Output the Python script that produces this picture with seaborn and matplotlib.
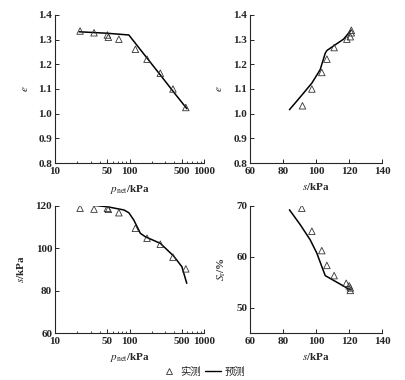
import numpy as np
import pandas as pd
import matplotlib
matplotlib.use('Agg')
import matplotlib.pyplot as plt
import seaborn as sns
from matplotlib.lines import Line2D
from matplotlib.ticker import LogLocator, NullFormatter

# measured points (triangles)
p_meas = [21.7, 33.4, 50.5, 52, 72, 120, 172, 259, 383, 570]
e_meas = [1.335, 1.328, 1.319, 1.310, 1.302, 1.261, 1.221, 1.164, 1.100, 1.025]
s_meas_p = [118.8, 118.4, 118.8, 118.3, 116.7, 109.4, 104.7, 101.9, 95.8, 90.3]

s_meas = [91.8, 97.5, 103.5, 106.6, 111.0, 118.7, 120.8, 121.4, 121.4]
e_meas_s = [1.032, 1.100, 1.167, 1.221, 1.268, 1.302, 1.312, 1.328, 1.338]
sr_s = [91.4, 97.5, 103.5, 106.6, 111.0, 118.3, 120.1, 120.8, 120.8]
sr_meas = [69.5, 65.0, 61.2, 58.3, 56.3, 54.8, 54.3, 53.9, 53.4]

# predicted curves
p_pred = [21.1, 50, 98, 150, 250, 400, 590]
e_pred = [1.332, 1.326, 1.319, 1.248, 1.163, 1.084, 1.020]

p_pred2 = [22.2, 50.5, 84, 98, 114, 140, 163, 259, 390, 505, 587]
s_pred_p = [120.8, 119.5, 118.0, 116.7, 113.3, 107.0, 105.4, 102.3, 96.4, 91.3, 83.5]

s_pred = [83.9, 90.4, 97.5, 102.5, 105.6, 106.6, 111.6, 116.7, 121.2]
e_pred_s = [1.016, 1.067, 1.124, 1.178, 1.245, 1.256, 1.279, 1.302, 1.338]

s_pred2 = [83.9, 90.4, 96.5, 100.5, 103.5, 105.6, 120.8]
sr_pred = [69.2, 66.3, 63.3, 60.7, 58.1, 56.3, 53.5]

sns.set_style('ticks')
plt.rcParams['font.family'] = ['Liberation Serif', 'Noto Sans CJK SC']
plt.rcParams['mathtext.fontset'] = 'stix'
plt.rcParams['xtick.direction'] = 'in'
plt.rcParams['ytick.direction'] = 'in'
plt.rcParams['xtick.major.size'] = 3
plt.rcParams['ytick.major.size'] = 3
plt.rcParams['xtick.minor.size'] = 1.8
plt.rcParams['xtick.major.width'] = 0.7
plt.rcParams['ytick.major.width'] = 0.7
plt.rcParams['xtick.minor.width'] = 0.6
plt.rcParams['axes.linewidth'] = 0.8
plt.rcParams['font.size'] = 8

fig = plt.figure(figsize=(4.06, 3.80), dpi=100)
W, H = 406, 380


def box(x0, y_top, x1, y_bot):
    return [x0 / W, 1 - y_bot / H, (x1 - x0) / W, (y_bot - y_top) / H]


ax1 = fig.add_axes(box(55, 15, 204, 163))
ax2 = fig.add_axes(box(250, 15, 382, 163))
ax3 = fig.add_axes(box(55, 205.7, 204, 333.3))
ax4 = fig.add_axes(box(250, 205.7, 382, 333.3))

tri = dict(marker='^', s=22, facecolor='none', edgecolor='#333333', linewidth=0.6, zorder=3)
ln = dict(color='black', linewidth=1.1, estimator=None, sort=False)


def draw(ax, xm, ym, xp, yp):
    sns.lineplot(x=xp, y=yp, ax=ax, **ln)
    sns.scatterplot(x=xm, y=ym, ax=ax, **tri)


draw(ax1, p_meas, e_meas, p_pred, e_pred)
draw(ax2, s_meas, e_meas_s, s_pred, e_pred_s)
draw(ax3, p_meas, s_meas_p, p_pred2, s_pred_p)
draw(ax4, sr_s, sr_meas, s_pred2, sr_pred)

for ax in (ax1, ax3):
    ax.set_xscale('log')
    ax.set_xlim(10, 1000)
    ax.set_xticks([10, 50, 100, 500, 1000])
    ax.set_xticklabels(['10', '50', '100', '500', '1000'])
    ax.xaxis.set_minor_locator(LogLocator(base=10, subs=np.arange(2, 10)))
    ax.xaxis.set_minor_formatter(NullFormatter())

for ax in (ax2, ax4):
    ax.set_xlim(60, 140)
    ax.set_xticks([60, 80, 100, 120, 140])

for ax in (ax1, ax2):
    ax.set_ylim(0.8, 1.4)
    ax.set_yticks([0.8, 0.9, 1.0, 1.1, 1.2, 1.3, 1.4])
    ax.set_yticklabels(['0.8', '0.9', '1.0', '1.1', '1.2', '1.3', '1.4'])

ax3.set_ylim(60, 120)
ax3.set_yticks([60, 80, 100, 120])
ax4.set_ylim(45, 70)
ax4.set_yticks([50, 60, 70])

for ax in (ax1, ax2, ax3, ax4):
    sns.despine(ax=ax)
    ax.tick_params(axis='y', which='both', labelsize=8, pad=2)
    ax.tick_params(axis='x', which='both', labelsize=8, pad=2.8)
    for t in ax.get_xticklabels() + ax.get_yticklabels():
        t.set_fontweight('bold')

lab = dict(fontsize=8, fontweight='bold')
ax1.set_ylabel('$e$', **lab)
ax1.yaxis.set_label_coords(-0.17, 0.5)
ax1.set_xlabel(r'$p_{\mathrm{net}}$/kPa', **lab)
ax1.xaxis.set_label_coords(0.5, -0.135)

ax2.set_ylabel('$e$', **lab)
ax2.yaxis.set_label_coords(-0.2, 0.5)
ax2.set_xlabel('$s$/kPa', **lab)
ax2.xaxis.set_label_coords(0.5, -0.12)

ax3.set_ylabel('$s$/kPa', **lab)
ax3.yaxis.set_label_coords(-0.195, 0.5)
ax3.set_xlabel(r'$p_{\mathrm{net}}$/kPa', **lab)
ax3.xaxis.set_label_coords(0.5, -0.135)

ax4.set_ylabel(r'$S_{\mathrm{r}}$/%', **lab)
ax4.yaxis.set_label_coords(-0.165, 0.5)
ax4.set_xlabel('$s$/kPa', **lab)
ax4.xaxis.set_label_coords(0.5, -0.135)

handles = [
    Line2D([], [], marker='^', linestyle='none', markerfacecolor='none',
           markeredgecolor='#333333', markersize=4.5, markeredgewidth=0.6),
    Line2D([], [], color='black', linewidth=1.0),
]
fig.legend(handles, ['实测', '预测'], loc='center', bbox_to_anchor=(0.5, 1 - 372 / H),
           ncol=2, frameon=False, handlelength=1.6, handletextpad=0.3,
           columnspacing=0.3, prop={'family': ['Noto Sans CJK SC'], 'size': 7.5})

fig.savefig('out.png', dpi=100)
